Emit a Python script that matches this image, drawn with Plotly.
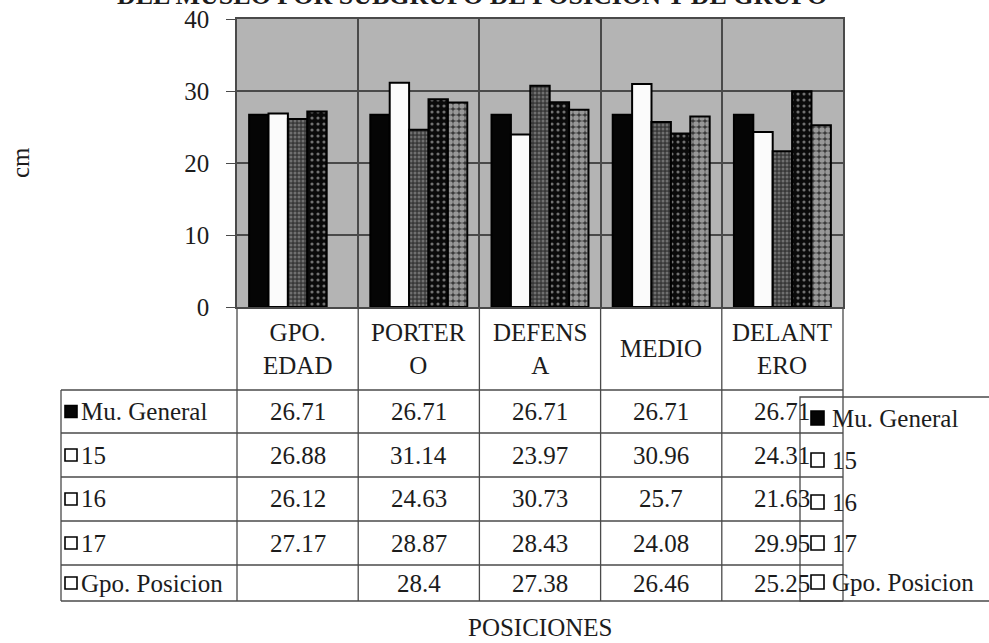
import plotly.graph_objects as go

# ---------------- data ----------------
categories = ["GPO. EDAD", "PORTERO", "DEFENSA", "MEDIO", "DELANTERO"]
header_labels = ["GPO.<br>EDAD", "PORTER<br>O", "DEFENS<br>A", "MEDIO", "DELANT<br>ERO"]
series_names = ["Mu. General", "15", "16", "17", "Gpo. Posicion"]
mu_general = [26.71, 26.71, 26.71, 26.71, 26.71]
age_15 = [26.88, 31.14, 23.97, 30.96, 24.31]
age_16 = [26.12, 24.63, 30.73, 25.7, 21.63]
age_17 = [27.17, 28.87, 28.43, 24.08, 29.95]
gpo_posicion = [None, 28.4, 27.38, 26.46, 25.25]
y_ticks = [0, 10, 20, 30, 40]
title_text = "DEL MUSLO POR SUBGRUPO DE POSICION Y DE GRUPO"
y_title = "cm"
x_title = "POSICIONES"

series_values = [mu_general, age_15, age_16, age_17, gpo_posicion]

# ---------------- styling ----------------
W, H = 989, 643
PL, PR, PT, PB = 237, 843, 19, 307  # plot area in pixels
FONT = "Liberation Serif, Times New Roman, serif"
TXT = "#1c1c1c"
LINE = "#4a4a4a"
FS = 25

styles = [
    dict(color="#050505", pattern=dict(shape="")),
    dict(color="#fbfbfb", pattern=dict(shape="")),
    dict(color="#383838", pattern=dict(shape=".", fgcolor="#a8a8a8", size=4, solidity=0.45)),
    dict(color="#0a0a0a", pattern=dict(shape=".", fgcolor="#d8d8d8", size=6, solidity=0.22)),
    dict(color="#3a3a3a", pattern=dict(shape=".", fgcolor="#f6f6f6", size=6, solidity=0.68)),
]
key_fill = ["#050505", "#ffffff", "#ffffff", "#ffffff", "#ffffff"]


def px_x(X):
    return (X - PL) / (PR - PL)


def px_y(Y):
    return (PB - Y) / (PB - PT)


fig = go.Figure()
for name, vals, st in zip(series_names, series_values, styles):
    fig.add_trace(go.Bar(
        x=categories, y=vals, name=name,
        marker=dict(color=st["color"], pattern=st["pattern"],
                    line=dict(color="#000000", width=2)),
        showlegend=False,
    ))

shapes = []
annotations = []

# ---------- data table under the plot ----------
row_lines = [390, 433, 477, 521, 565, 601]
table_left = 61
for k in range(len(categories) + 1):
    shapes.append(dict(type="line", xref="paper", yref="paper",
                       x0=k / len(categories), x1=k / len(categories),
                       y0=px_y(PB), y1=px_y(row_lines[-1]),
                       line=dict(color=LINE, width=1.3)))
shapes.append(dict(type="line", xref="paper", yref="paper",
                   x0=px_x(table_left), x1=px_x(table_left),
                   y0=px_y(row_lines[0]), y1=px_y(row_lines[-1]),
                   line=dict(color=LINE, width=1.3)))
for Y in row_lines:
    shapes.append(dict(type="line", xref="paper", yref="paper",
                       x0=px_x(table_left), x1=1, y0=px_y(Y), y1=px_y(Y),
                       line=dict(color=LINE, width=1.3)))

# header labels
for cat, lab in zip(categories, header_labels):
    annotations.append(dict(x=cat, xref="x", y=px_y((PB + row_lines[0]) / 2), yref="paper",
                            text=lab, showarrow=False, xanchor="center", yanchor="middle",
                            font=dict(family=FONT, size=FS, color=TXT)))

# rows
for r, (name, vals) in enumerate(zip(series_names, series_values)):
    yc = (row_lines[r] + row_lines[r + 1]) / 2
    shapes.append(dict(type="rect", xref="paper", yref="paper",
                       x0=px_x(65), x1=px_x(77), y0=px_y(yc + 6), y1=px_y(yc - 6),
                       fillcolor=key_fill[r], line=dict(color="#000000", width=1.6)))
    annotations.append(dict(x=px_x(79), xref="paper", y=px_y(yc), yref="paper",
                            text=name, showarrow=False, xanchor="left", yanchor="middle",
                            font=dict(family=FONT, size=FS, color=TXT)))
    for cat, v in zip(categories, vals):
        if v is None:
            continue
        annotations.append(dict(x=cat, xref="x", y=px_y(yc), yref="paper",
                                text=f"{v:g}", showarrow=False, xanchor="center",
                                yanchor="middle",
                                font=dict(family=FONT, size=FS, color=TXT)))

# ---------- legend (drawn on the right, overlapping the table) ----------
leg_top, leg_bottom, leg_left = 397, 601, 800
shapes.append(dict(type="rect", xref="paper", yref="paper",
                   x0=px_x(leg_left), x1=px_x(1010), y0=px_y(leg_bottom), y1=px_y(leg_top),
                   line=dict(color=LINE, width=1.3), fillcolor="rgba(0,0,0,0)"))
leg_rows = [418, 460, 502, 543, 582]
for r, name in enumerate(series_names):
    yc = leg_rows[r]
    shapes.append(dict(type="rect", xref="paper", yref="paper",
                       x0=px_x(811), x1=px_x(824), y0=px_y(yc + 7), y1=px_y(yc - 7),
                       fillcolor=key_fill[r], line=dict(color="#000000", width=1.6)))
    annotations.append(dict(x=px_x(830), xref="paper", y=px_y(yc), yref="paper",
                            text=name, showarrow=False, xanchor="left", yanchor="middle",
                            font=dict(family=FONT, size=FS, color=TXT)))

# ---------- titles ----------
annotations.append(dict(x=px_x(472), xref="paper", y=px_y(12), yref="paper",
                        text=f"<b>{title_text}</b>", showarrow=False,
                        xanchor="center", yanchor="bottom",
                        font=dict(family=FONT, size=26, color=TXT)))
annotations.append(dict(x=px_x(20), xref="paper", y=0.5, yref="paper",
                        text=y_title, showarrow=False, textangle=-90,
                        xanchor="center", yanchor="middle",
                        font=dict(family=FONT, size=FS, color=TXT)))
annotations.append(dict(x=0.5, xref="paper", y=px_y(627), yref="paper",
                        text=x_title, showarrow=False,
                        xanchor="center", yanchor="middle",
                        font=dict(family=FONT, size=FS, color=TXT)))

fig.update_layout(
    width=W, height=H,
    margin=dict(l=PL, r=W - PR, t=PT, b=H - PB, autoexpand=False),
    paper_bgcolor="#ffffff",
    plot_bgcolor="#b4b4b4",
    barmode="group", bargap=0.2, bargroupgap=0.0,
    font=dict(family=FONT, size=FS, color=TXT),
    shapes=shapes, annotations=annotations,
    showlegend=False,
)
fig.update_xaxes(
    type="category", showticklabels=False, ticks="",
    tickson="boundaries", showgrid=True, gridcolor=LINE, gridwidth=1.5,
    showline=True, linecolor=LINE, linewidth=1.5, mirror=True, zeroline=False,
)
fig.update_yaxes(
    range=[0, 40], tickvals=y_ticks, ticks="outside", ticklen=9, tickcolor=LINE,
    tickwidth=1.3, ticklabelstandoff=12,
    showgrid=True, gridcolor=LINE, gridwidth=1.5,
    showline=True, linecolor=LINE, linewidth=1.5, mirror=True, zeroline=False,
    tickfont=dict(family=FONT, size=FS, color=TXT), automargin=False,
)

fig.write_html(
    "out.html",
    config={"displayModeBar": False},
    post_script="document.body.style.margin='0';document.body.style.overflow='hidden';",
)
